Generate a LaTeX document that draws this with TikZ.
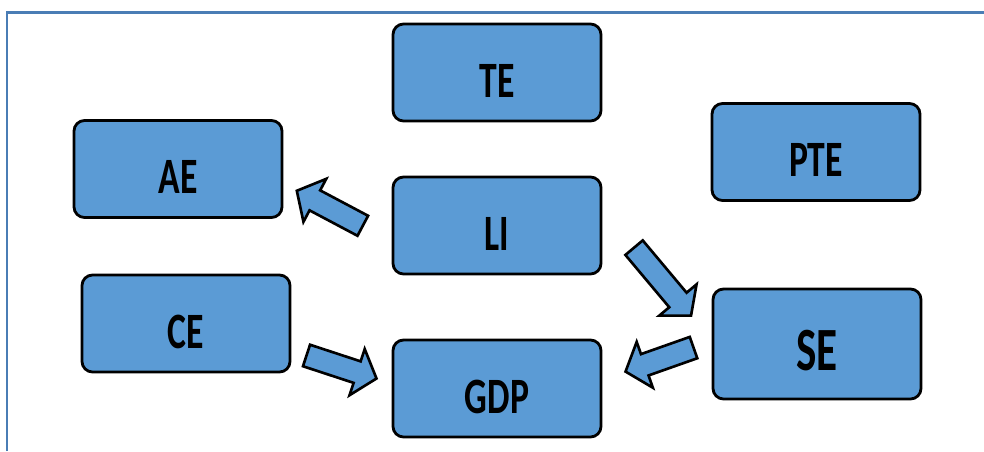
\documentclass[tikz,border=0pt]{standalone}
\usepackage{fontspec}
\usepackage{tikz}
\usetikzlibrary{arrows.meta, positioning, shapes.arrows, calc}
\newfontfamily\boxfont[FakeStretch=0.7]{Carlito}
\definecolor{boxBlue}{HTML}{5B9BD5}
\definecolor{frameBlue}{HTML}{4A7DB5}
\tikzset{
  boxV/.style={rectangle, rounded corners=6pt, draw=black, line width=1.6pt,
               fill=boxBlue, align=center, font=\boxfont\bfseries\fontsize{29}{32}\selectfont,
               minimum width=4.16cm, minimum height=1.94cm, inner sep=2pt,
               text height=28pt, text depth=0pt},
  fatArrow/.style={single arrow, draw=black, line width=1.5pt, fill=boxBlue,
                   inner sep=0.2cm, single arrow head extend=0.26cm,
                   single arrow tip angle=100, allow upside down, sloped},
}
\begin{document}
\begin{tikzpicture}
    \useasboundingbox (0,0) rectangle (19.68,9.02);
    % frame
    \draw[frameBlue, line width=1.2pt] (0.14,0) -- (0.14,8.77) -- (19.68,8.77);

    \node[boxV] (TE)  at (9.94,7.57) {TE};
    \node[boxV] (AE)  at (3.56,5.64) {AE};
    \node[boxV] (PTE) at (16.32,5.98) {PTE};
    \node[boxV] (LI)  at (9.94,4.51) {LI};
    \node[boxV] (CE)  at (3.72,2.55) {CE};
    \node[boxV, minimum height=2.2cm, text height=30pt,
          font=\boxfont\bfseries\fontsize{35}{38}\selectfont]
          (SE)  at (16.34,2.14) {SE};
    \node[boxV] (GDP) at (9.94,1.25) {GDP};

    % arrow ends
    \coordinate (liAE1) at (7.34,4.46);  \coordinate (liAE2) at (6.02,5.16);
    \coordinate (liSE1) at (12.62,4.14); \coordinate (liSE2) at (13.76,2.78);
    \coordinate (seGD1) at (13.96,2.10); \coordinate (seGD2) at (12.60,1.62);
    \coordinate (ceGD1) at (6.04,1.94);  \coordinate (ceGD2) at (7.44,1.48);

    \foreach \s in {liAE, liSE, seGD, ceGD}
      \path let \p1=($(\s2)-(\s1)$), \n1={veclen(\x1,\y1)} in
        (\s1) -- (\s2) node[midway, fatArrow, minimum height=\n1] (\s) {};
\end{tikzpicture}
\end{document}
